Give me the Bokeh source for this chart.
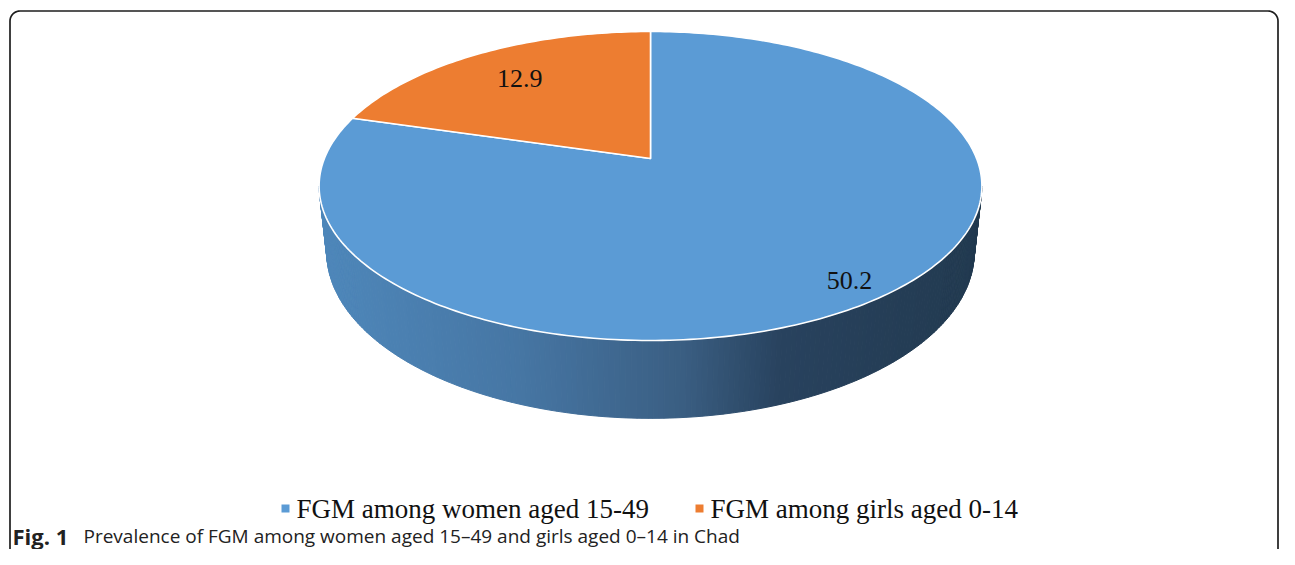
import math
from bokeh.plotting import figure
from bokeh.models import Range1d
from bokeh.core.properties import value
from bokeh.embed import file_html
from bokeh.resources import INLINE

# ---- data ----
categories = ["FGM among women aged 15-49", "FGM among girls aged 0-14"]
values = [50.2, 12.9]
colors = ["#5B9BD5", "#ED7D31"]
label_radius = [0.89, 0.74]
caption_bold = "Fig. 1"
caption_text = "Prevalence of FGM among women aged 15\u201349 and girls aged 0\u201314 in Chad"

# ---- 3D-pie projection (perspective) ----
CX, CY = 650.0, 158.0      # screen position of pie centre (apex)
K, M, E = 326.1, 149.6, 0.178
KB = 0.977 * K
D = 64.0                   # depth of the pie side


def proj(theta_deg, r=1.0, bottom=False):
    t = math.radians(theta_deg)
    u, v = r * math.cos(t), r * math.sin(t)
    w = 1.0 + E * v
    if bottom:
        return CX + KB * u / w, CY + (-M * v + D) / w
    return CX + K * u / w, CY - M * v / w


W, H = 1279, 549
p = figure(width=W, height=H, output_backend="svg", toolbar_location=None,
           x_range=Range1d(0, W), y_range=Range1d(H, 0), min_border=0)
p.axis.visible = False
p.grid.visible = False
p.outline_line_color = None
p.background_fill_color = "white"

# ---- frame with rounded corners ----
fl, ft, fr, fb, rad = 9.5, 10.5, W - 1.5, H + 20.0, 10.0
fx = [fl]
fy = [fb]
for i in range(0, 11):
    a = math.radians(180 + 9 * i)
    fx.append(fl + rad + rad * math.cos(a))
    fy.append(ft + rad + rad * math.sin(a))
for i in range(0, 11):
    a = math.radians(270 + 9 * i)
    fx.append(fr - rad + rad * math.cos(a))
    fy.append(ft + rad + rad * math.sin(a))
fx.append(fr)
fy.append(fb)
p.line(fx, fy, line_color="#1e1e1e", line_width=1.7)

# ---- slice angles (start at 12 o'clock, clockwise) ----
total = sum(values)
starts, ends = [], []
ang = 90.0
for v_ in values:
    span = 360.0 * v_ / total
    starts.append(ang)
    ends.append(ang - span)
    ang -= span

# ---- side (visible front part) with horizontal gradient ----
vis_lo = -180.0 + math.degrees(math.asin(E))   # left silhouette
vis_hi = -math.degrees(math.asin(E))          # right silhouette
xl = proj(vis_lo)[0]
xr = proj(vis_hi)[0]
stops = [(0.0, (78, 135, 186)), (0.3, (70, 118, 164)), (0.55, (58, 94, 130)),
         (0.7, (40, 66, 94)), (1.0, (34, 58, 80))]


def grad(f):
    f = min(max(f, 0.0), 1.0)
    for (f0, c0), (f1, c1) in zip(stops[:-1], stops[1:]):
        if f <= f1:
            t = (f - f0) / (f1 - f0) if f1 > f0 else 0
            c = [round(c0[j] + (c1[j] - c0[j]) * t) for j in range(3)]
            return "#%02x%02x%02x" % tuple(c)
    return "#%02x%02x%02x" % stops[-1][1]


sxs, sys_, scol = [], [], []
for s, e in zip(starts, ends):
    lo, hi = e, s
    for shift in (-360.0, 0.0, 360.0):
        a0 = max(lo + shift, vis_lo)
        a1 = min(hi + shift, vis_hi)
        if a1 <= a0:
            continue
        n = max(2, int((a1 - a0) / 0.8))
        for i in range(n):
            ta = a0 + (a1 - a0) * i / n
            tb = a0 + (a1 - a0) * (i + 1) / n
            pa, pb = proj(ta), proj(tb)
            qa, qb = proj(ta, bottom=True), proj(tb, bottom=True)
            sxs.append([pa[0], pb[0], qb[0], qa[0]])
            sys_.append([pa[1], pb[1], qb[1], qa[1]])
            scol.append(grad(((pa[0] + pb[0]) / 2 - xl) / (xr - xl)))
p.patches(sxs, sys_, fill_color=scol, line_color=scol, line_width=1.0)

# ---- top faces ----
txs, tys = [], []
for s, e in zip(starts, ends):
    n = max(4, int(abs(s - e) / 1.0))
    xs = [CX]
    ys = [CY]
    for i in range(n + 1):
        x_, y_ = proj(s + (e - s) * i / n)
        xs.append(x_)
        ys.append(y_)
    txs.append(xs)
    tys.append(ys)
p.patches(txs, tys, fill_color=colors, line_color="white", line_width=1.6,
          line_join="round")

# ---- data labels ----
lx, ly, lt = [], [], []
for s, e, v_, r_ in zip(starts, ends, values, label_radius):
    x_, y_ = proj((s + e) / 2.0, r=r_)
    lx.append(x_)
    ly.append(y_)
    lt.append("%.1f" % v_)
p.text(lx, ly, text=lt, text_font=value("Liberation Serif"), text_font_size="26px",
       text_align="center", text_baseline="middle", text_color="#111111")

# ---- legend ----
leg_sq_x = [285, 699]
leg_tx_x = [296, 710]
leg_y = 508
p.scatter(leg_sq_x, [leg_y] * 2, marker="square", size=8, fill_color=colors,
          line_color=None)
p.text(leg_tx_x, [leg_y] * 2, text=categories, text_font=value("Liberation Serif"),
       text_font_size="27px", text_align="left", text_baseline="middle",
       text_color="#111111")

# ---- caption ----
cap_y = 535
p.text([12], [cap_y], text=[caption_bold], text_font=value("Open Sans"),
       text_font_size="22px", text_font_style="bold", text_align="left",
       text_baseline="middle", text_color="#222222")
p.text([83], [cap_y], text=[caption_text], text_font=value("Open Sans"),
       text_font_size="19px", text_align="left", text_baseline="middle",
       text_color="#222222")

open("out.html", "w").write(file_html(p, INLINE))
